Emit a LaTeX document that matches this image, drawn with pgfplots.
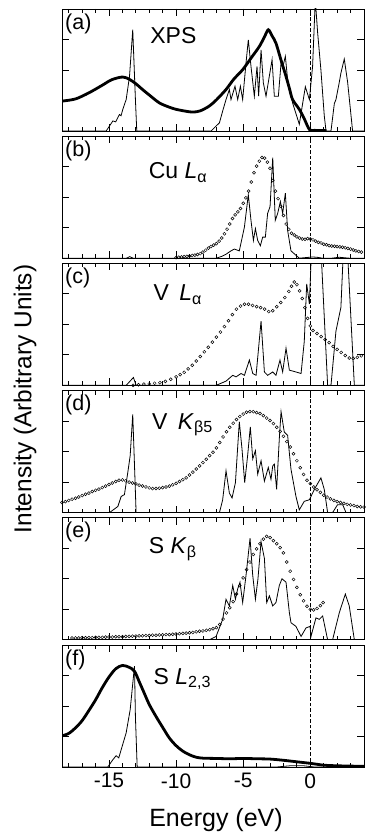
\documentclass[border=0pt]{standalone}
\usepackage{fontspec}
\setmainfont{Liberation Sans}
\usepackage{pgfplots}
\pgfplotsset{compat=1.18}
\pgfplotsset{
 panel/.style={
  scale only axis, width=302pt, height=122pt,
  xmin=-18.5, xmax=4, ymin=0, ymax=4,
  xtick={-15,-10,-5,0}, minor xtick={-18,-17,...,3},
  ytick={1,2,3}, yticklabels={}, xticklabels={},
  xtick pos=both, ytick pos=both, tick align=inside,
  major tick length=7pt, minor tick length=4pt,
  tick style={black, line width=0.8pt},
  axis line style={line width=0.9pt},
  anchor=south west,
 },
 calc/.style={black, line width=0.8pt, no marks},
 expo/.style={black, only marks, mark=o, mark size=1.5pt, mark options={line width=0.5pt}},
 expl/.style={black, line width=2.8pt, no marks, smooth},
 zero/.style={black, line width=0.8pt, dash pattern=on 3.5pt off 2pt, no marks},
}
\newcommand{\lett}[1]{\node[anchor=base west, inner sep=0pt, font=\fontsize{21.5}{21.5}\selectfont] at (rel axis cs:0.010,0.835) {#1};}
\newcommand{\name}[3]{\node[anchor=base west, inner sep=0pt, font=\fontsize{23}{23}\selectfont] at (rel axis cs:#1,#2) {#3};}
\begin{document}
\begin{tikzpicture}[x=1pt,y=1pt]
% (a) XPS
\begin{axis}[panel, at={(62pt,707pt)}]
\addplot[zero] coordinates {(0,0)(0,4)};
\addplot[expl] coordinates {(-18.5,0.98)(-17.5,1.05)(-16.5,1.25)(-15.5,1.5)(-14.8,1.68)(-14.0,1.77)(-13.5,1.7)(-13.0,1.55)(-12.5,1.36)(-12.0,1.18)(-11.24,0.92)(-10.5,0.78)(-10,0.71)(-9.3,0.65)(-8.76,0.62)(-8.2,0.66)(-7.52,0.82)(-7,1.02)(-6.28,1.36)(-5.7,1.7)(-5.04,2.01)(-4.4,2.4)(-3.8,2.77)(-3.4,3.1)(-3.13,3.32)(-2.85,3.12)(-2.56,2.88)(-2.2,2.35)(-1.81,1.79)(-1.56,1.4)(-1.32,1.03)(-0.82,0.71)(-0.45,0.4)(-0.07,0.05)(0.3,0.02)(1.2,0.02)};
\addplot[calc] coordinates {(-18.5,0)(-15.21,0)(-14.71,0.33)(-14.5,0.3)(-14.34,0.44)(-14.22,0.54)(-14.1,0.5)(-13.97,0.71)(-13.72,1.03)(-13.47,1.79)(-13.23,3.32)(-13.03,1.03)(-12.93,0)(-7.39,0)(-6.77,0.27)(-6.5,0.7)(-6.28,1.03)(-6.03,1.36)(-5.91,1.03)(-5.61,1.47)(-5.41,1.03)(-5.21,1.47)(-5.04,1.03)(-4.79,2.23)(-4.62,2.99)(-4.42,2.12)(-4.17,1.14)(-3.97,2.12)(-3.85,1.14)(-3.67,2.66)(-3.50,1.58)(-3.30,1.14)(-2.85,2.34)(-2.68,1.14)(-2.38,1.14)(-2.18,2.23)(-2.06,2.07)(-1.86,2.45)(-1.69,1.68)(-1.32,0.92)(-0.82,0.22)(-0.37,1.45)(-0.07,1.03)(0.17,2.12)(0.37,4.3)(0.55,3.2)(0.79,2.0)(1.04,0.5)(1.17,0)(1.54,0)(1.79,0.9)(1.91,1.03)(2.16,1.6)(2.28,1.9)(2.53,2.36)(2.78,1.6)(3.15,0)(4,0)};
\lett{(a)}
\name{0.292}{0.715}{XPS}
\end{axis}
% (b) Cu L alpha
\begin{axis}[panel, at={(62pt,579.8pt)}]
\addplot[zero] coordinates {(0,0)(0,4)};
\addplot[expo] coordinates {(-10.0,0.02)(-9.8,0.03)(-9.6,0.04)(-9.4,0.05)(-9.2,0.06)(-9.0,0.07)(-8.8,0.09)(-8.6,0.1)(-8.4,0.12)(-8.2,0.15)(-8.0,0.2)(-7.8,0.26)(-7.6,0.33)(-7.4,0.38)(-7.2,0.43)(-7.0,0.48)(-6.8,0.56)(-6.6,0.66)(-6.4,0.8)(-6.2,0.95)(-6.0,1.12)(-5.8,1.3)(-5.6,1.42)(-5.4,1.52)(-5.2,1.63)(-5.0,1.8)(-4.8,1.98)(-4.6,2.2)(-4.4,2.5)(-4.2,2.8)(-4.0,3.02)(-3.8,3.18)(-3.6,3.3)(-3.4,3.28)(-3.2,3.15)(-3.0,2.95)(-2.8,2.55)(-2.6,2.2)(-2.4,1.95)(-2.2,1.7)(-2.0,1.4)(-1.8,1.12)(-1.6,0.95)(-1.4,0.82)(-1.2,0.76)(-1.0,0.7)(-0.8,0.66)(-0.6,0.63)(-0.4,0.62)(-0.2,0.64)(0.0,0.63)(0.2,0.6)(0.4,0.56)(0.6,0.52)(0.8,0.5)(1.0,0.46)(1.2,0.44)(1.4,0.41)(1.6,0.4)(1.8,0.39)(2.0,0.38)(2.2,0.37)(2.4,0.36)(2.6,0.34)(2.8,0.32)(3.0,0.3)(3.2,0.27)(3.4,0.24)(3.6,0.22)(3.8,0.2)};
\addplot[calc] coordinates {(-18.5,0)(-13.7,0)(-13.45,0.05)(-13.2,0)(-7.0,0)(-6.6,0.06)(-6.28,0.13)(-5.91,0.24)(-5.66,0.3)(-5.29,0.24)(-4.91,1.02)(-4.62,2.08)(-4.42,1.24)(-4.24,0.58)(-4.09,0.97)(-3.92,0.58)(-3.72,0.41)(-3.55,0.69)(-3.35,0.69)(-3.18,1.47)(-3.0,1.69)(-2.80,3.3)(-2.61,1.24)(-2.43,1.47)(-2.23,1.86)(-2.06,1.47)(-1.86,2.13)(-1.69,0.91)(-1.44,0.24)(-0.82,0)(0.17,0.04)(0.5,0.03)(0.92,0)(1.6,0)(2.16,0.03)(2.9,0)(4,0)};
\lett{(b)}
\name{0.287}{0.65}{Cu \textit{L}\textsubscript{α}}
\end{axis}
% (c) V L alpha
\begin{axis}[panel, at={(62pt,452.6pt)}]
\addplot[zero] coordinates {(0,0)(0,4)};
\addplot[expo] coordinates {(-13.2,0.0)(-12.8,0.02)(-12.4,0.04)(-12.0,0.05)(-11.6,0.07)(-11.2,0.09)(-10.8,0.13)(-10.4,0.2)(-10.0,0.28)(-9.7,0.35)(-9.4,0.43)(-9.1,0.54)(-8.8,0.66)(-8.5,0.8)(-8.2,0.95)(-7.9,1.1)(-7.6,1.25)(-7.3,1.42)(-7.0,1.58)(-6.7,1.75)(-6.4,1.93)(-6.1,2.12)(-5.8,2.32)(-5.5,2.5)(-5.2,2.6)(-4.9,2.66)(-4.6,2.66)(-4.3,2.62)(-4.0,2.58)(-3.7,2.55)(-3.4,2.5)(-3.1,2.42)(-2.8,2.45)(-2.5,2.58)(-2.2,2.72)(-1.9,2.88)(-1.6,3.08)(-1.4,3.25)(-1.2,3.39)(-1.0,3.3)(-0.8,3.1)(-0.6,2.85)(-0.4,2.55)(-0.2,2.2)(0.0,1.95)(0.2,1.8)(0.5,1.7)(0.8,1.6)(1.1,1.5)(1.4,1.4)(1.7,1.28)(2.0,1.18)(2.3,1.08)(2.6,0.98)(2.9,0.9)(3.2,0.88)(3.5,0.92)(3.8,0.97)};
\addplot[calc] coordinates {(-18.5,0)(-13.72,0)(-13.18,0.26)(-12.98,0)(-7.02,0)(-6.28,0.14)(-5.78,0.33)(-5.53,0.28)(-5.16,0.39)(-4.91,0.33)(-4.54,0.83)(-4.29,0.39)(-4.04,0.33)(-3.67,2.11)(-3.42,0.44)(-3.18,0.33)(-2.80,0.44)(-2.56,0.33)(-2.26,0.83)(-2.06,0.44)(-1.81,1.22)(-1.56,0.5)(-1.07,0.44)(-0.69,0.39)(-0.45,1.44)(-0.27,3.33)(-0.07,2.67)(0.1,4.6)(0.45,6)(0.8,4.4)(1.29,0)(1.54,0)(1.91,1.78)(2.28,2.56)(2.46,4.4)(2.7,5)(3.28,0)(4,0)};
\lett{(c)}
\name{0.303}{0.695}{V\hspace{0.45em}\textit{L}\textsubscript{α}}
\end{axis}
% (d) V K beta5
\begin{axis}[panel, at={(62pt,325.4pt)}]
\addplot[zero] coordinates {(0,0)(0,4)};
\addplot[expo] coordinates {(-18.5,0.33)(-18.25,0.36)(-18.0,0.4)(-17.75,0.44)(-17.5,0.47)(-17.25,0.51)(-17.0,0.56)(-16.75,0.6)(-16.5,0.64)(-16.25,0.69)(-16.0,0.73)(-15.75,0.77)(-15.5,0.82)(-15.25,0.87)(-15.0,0.92)(-14.75,0.97)(-14.5,1.02)(-14.25,1.06)(-14.0,1.07)(-13.75,1.04)(-13.5,1.0)(-13.25,0.97)(-13.0,0.94)(-12.75,0.9)(-12.5,0.87)(-12.25,0.84)(-12.0,0.81)(-11.75,0.79)(-11.5,0.79)(-11.25,0.8)(-11.0,0.82)(-10.75,0.84)(-10.5,0.87)(-10.25,0.91)(-10.0,0.96)(-9.75,1.02)(-9.5,1.08)(-9.25,1.14)(-9.0,1.23)(-8.75,1.33)(-8.5,1.43)(-8.25,1.53)(-8.0,1.64)(-7.75,1.75)(-7.5,1.87)(-7.25,1.98)(-7.0,2.12)(-6.75,2.3)(-6.5,2.48)(-6.25,2.65)(-6.0,2.8)(-5.75,2.93)(-5.5,3.05)(-5.25,3.15)(-5.0,3.23)(-4.75,3.29)(-4.5,3.31)(-4.25,3.31)(-4.0,3.28)(-3.75,3.25)(-3.5,3.18)(-3.25,3.1)(-3.0,3.02)(-2.75,2.92)(-2.5,2.8)(-2.25,2.66)(-2.0,2.5)(-1.75,2.33)(-1.5,2.15)(-1.25,1.93)(-1.0,1.7)(-0.75,1.47)(-0.5,1.25)(-0.25,1.06)(0.0,0.95)(0.25,0.84)(0.5,0.75)(0.75,0.66)(1.0,0.57)(1.25,0.51)(1.5,0.45)(1.75,0.4)(2.0,0.36)(2.25,0.33)(2.5,0.3)(2.75,0.27)(3.0,0.25)(3.25,0.23)(3.5,0.2)(3.75,0.19)(4.0,0.18)};
\addplot[calc] coordinates {(-18.5,0)(-14.96,0)(-14.34,0.2)(-14.09,0.53)(-13.85,0.59)(-13.60,1.31)(-13.42,1.87)(-13.23,3.22)(-13.08,1.31)(-12.98,0)(-6.77,0)(-6.53,0.42)(-6.28,1.37)(-6.03,0.64)(-5.83,0.48)(-5.58,0.98)(-5.29,2.98)(-5.09,2.09)(-4.89,0.98)(-4.67,1.87)(-4.47,2.81)(-4.29,1.76)(-4.09,2.03)(-3.92,1.26)(-3.67,1.7)(-3.42,1.03)(-3.13,1.48)(-2.93,1.09)(-2.80,1.53)(-2.68,1.59)(-2.51,0.76)(-2.31,2.42)(-2.18,3.31)(-1.94,2.64)(-1.69,2.53)(-1.44,1.42)(-1.07,0.53)(-0.82,0.09)(-0.45,0.37)(-0.07,0.42)(0.30,0.76)(0.79,1.14)(1.04,0.76)(1.29,0)(1.66,0)(2.03,0.26)(2.41,0.26)(2.66,0)(4,0)};
\lett{(d)}
\name{0.298}{0.685}{V\hspace{0.45em}\textit{K}\textsubscript{β5}}
\end{axis}
% (e) S K beta
\begin{axis}[panel, at={(62pt,198.2pt)}]
\addplot[zero] coordinates {(0,0)(0,4)};
\addplot[expo] coordinates {(-17.75,0.06)(-17.5,0.06)(-17.25,0.06)(-17.0,0.07)(-16.75,0.07)(-16.5,0.07)(-16.25,0.07)(-16.0,0.08)(-15.75,0.08)(-15.5,0.08)(-15.25,0.09)(-15.0,0.09)(-14.75,0.09)(-14.5,0.1)(-14.25,0.1)(-14.0,0.1)(-13.75,0.11)(-13.5,0.11)(-13.25,0.12)(-13.0,0.12)(-12.75,0.13)(-12.5,0.13)(-12.25,0.14)(-12.0,0.14)(-11.75,0.15)(-11.5,0.15)(-11.25,0.16)(-11.0,0.16)(-10.75,0.17)(-10.5,0.17)(-10.25,0.18)(-10.0,0.19)(-9.75,0.2)(-9.5,0.21)(-9.25,0.22)(-9.0,0.23)(-8.75,0.24)(-8.5,0.26)(-8.25,0.28)(-8.0,0.29)(-7.75,0.31)(-7.5,0.33)(-7.25,0.36)(-7.0,0.4)(-6.75,0.5)(-6.5,0.68)(-6.25,0.88)(-6.0,1.05)(-5.75,1.25)(-5.5,1.5)(-5.25,1.78)(-5.0,2.03)(-4.75,2.3)(-4.5,2.55)(-4.25,2.8)(-4.0,2.98)(-3.75,3.15)(-3.5,3.3)(-3.25,3.39)(-3.0,3.35)(-2.75,3.25)(-2.5,3.15)(-2.25,3.02)(-2.0,2.85)(-1.75,2.55)(-1.5,2.25)(-1.25,1.98)(-1.0,1.72)(-0.75,1.48)(-0.5,1.28)(-0.25,1.1)(0.0,1.0)(0.25,0.98)(0.5,1.03)(0.75,1.12)(0.95,1.22)};
\addplot[calc] coordinates {(-18.5,0)(-7.52,0)(-7.02,0.11)(-6.53,0.67)(-6.28,1.33)(-6.03,1.11)(-5.78,1.78)(-5.58,1.33)(-5.41,1.67)(-5.24,1.89)(-5.04,1.22)(-4.79,2.11)(-4.49,3.33)(-4.29,2.11)(-4.09,1.33)(-3.90,2.0)(-3.67,3.22)(-3.42,2.67)(-3.25,1.22)(-3.05,1.44)(-2.80,1.11)(-2.56,1.22)(-2.31,1.78)(-2.11,2.0)(-1.81,1.89)(-1.56,0.89)(-1.44,0.56)(-1.07,0.44)(-0.69,0.11)(-0.32,0.39)(-0.02,0.44)(0.05,0.11)(0.42,0.72)(0.67,0.67)(0.92,0.78)(1.29,0)(1.66,0)(2.16,0.89)(2.61,1.5)(2.90,1.11)(3.28,0)(4,0)};
\lett{(e)}
\name{0.287}{0.705}{S \textit{K}\textsubscript{β}}
\end{axis}
% (f) S L2,3
\begin{axis}[panel, at={(62pt,71pt)}, xticklabels={-15,-10,-5,0},
  xticklabel style={font=\fontsize{21}{21}\selectfont, yshift=-3pt}]
\addplot[zero] coordinates {(0,0)(0,4)};
\addplot[expl] coordinates {(-18.5,1.02)(-18,1.1)(-17.5,1.28)(-17,1.52)(-16.5,1.85)(-16,2.2)(-15.5,2.6)(-15,2.95)(-14.5,3.22)(-14,3.33)(-13.5,3.27)(-13.1,3.14)(-12.73,2.78)(-12.4,2.45)(-12,2.05)(-11.5,1.66)(-11,1.3)(-10.5,0.95)(-10,0.7)(-9.5,0.52)(-9,0.4)(-8.5,0.32)(-8,0.29)(-7,0.28)(-6,0.27)(-5,0.28)(-4,0.27)(-3,0.26)(-2,0.22)(-1,0.17)(0,0.12)(1,0.06)(2,0.04)(3,0.03)(4,0.02)};
\addplot[calc] coordinates {(-18.5,0)(-15.09,0)(-14.71,0.24)(-14.47,0.37)(-14.27,0.3)(-14.09,0.57)(-13.72,1.12)(-13.42,1.88)(-13.10,3.31)(-13.03,1.65)(-12.90,0)(-2.5,0)(-1.5,0.04)(-0.5,0.04)(0.3,0)(4,0)};
\lett{(f)}
\name{0.303}{0.68}{S \textit{L}\textsubscript{2,3}}
\end{axis}
\node[rotate=90, font=\fontsize{24.4}{24.4}\selectfont] at (25,439) {Intensity (Arbitrary Units)};
\node[anchor=base, font=\fontsize{25}{25}\selectfont] at (216,11.3) {Energy (eV)};
\pgfresetboundingbox
\path[use as bounding box] (0,0) rectangle (365,838);
\end{tikzpicture}
\end{document}
